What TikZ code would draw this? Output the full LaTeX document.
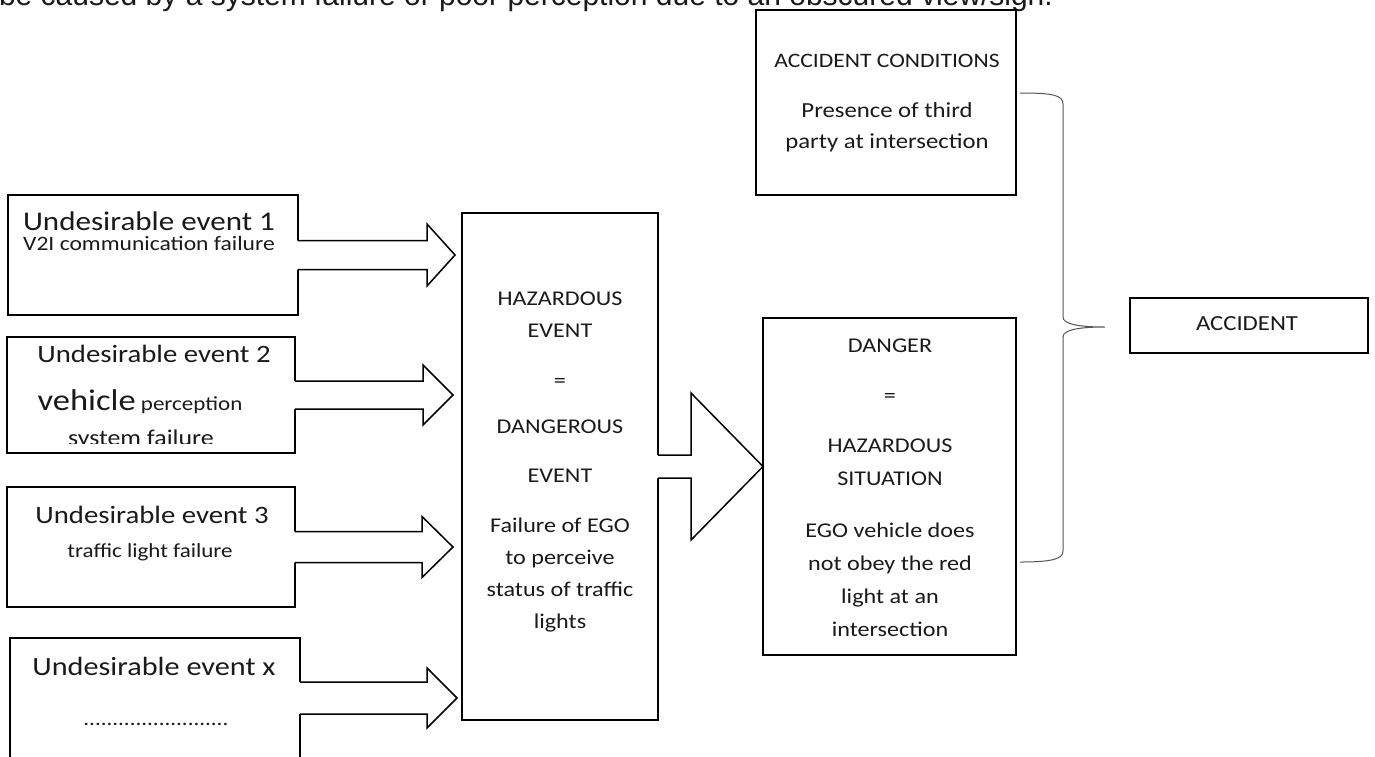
\documentclass[tikz,border=0pt]{standalone}
\usepackage{fontspec}
\setmainfont{Carlito}[FakeStretch=1.15]
\newfontfamily\notefont{Liberation Sans}
\usetikzlibrary{calc}
\definecolor{ink}{HTML}{1A1A1A}
\definecolor{bracegray}{HTML}{555555}
\newcommand{\fs}[2]{\fontsize{#1pt}{#2pt}\selectfont}

% Block arrow from the east side of node #1 towards the west side of node #2.
% #3 shaft half-height, #4 head half-height, #5 head length, #6 gap before #2.
\newcommand{\blockarrow}[6]{%
  \fill[white] let \p1=(#1.east), \p2=(#2.west) in
    (\x1-2pt,\y1+#3) -- (\x2-#6-#5,\y1+#3) -- (\x2-#6-#5,\y1+#4) -- (\x2-#6,\y1)
    -- (\x2-#6-#5,\y1-#4) -- (\x2-#6-#5,\y1-#3) -- (\x1-2pt,\y1-#3) -- cycle;
  \draw[blk] let \p1=(#1.east), \p2=(#2.west) in
    (\x1,\y1+#3) -- (\x2-#6-#5,\y1+#3) -- (\x2-#6-#5,\y1+#4) -- (\x2-#6,\y1)
    -- (\x2-#6-#5,\y1-#4) -- (\x2-#6-#5,\y1-#3) -- (\x1,\y1-#3);
}

\tikzset{
  box/.style={draw=black, line width=1.5pt, fill=white, rectangle,
    inner sep=0pt, outer sep=0pt, anchor=north west},
  txt/.style={inner sep=0pt, outer sep=0pt, text=ink, anchor=base, align=center},
  blk/.style={draw=black, line width=1.5pt, line join=miter},
  bracepen/.style={draw=bracegray, line width=1pt},
}

\begin{document}
\begin{tikzpicture}[x=1pt,y=-1pt]
\clip (0,0) rectangle (1375,756);
\fill[white] (0,0) rectangle (1375,756);

% running text above the figure
\node[txt, anchor=base west, font=\notefont\fs{30}{36}] (note) at (-1,5)
  {be caused by a system failure or poor perception due to an obscured view/sign.};

% boxes
\node[box, minimum width=290pt, minimum height=120pt] (e1) at (8,195) {};
\node[box, minimum width=288pt, minimum height=116pt] (e2) at (7,337) {};
\node[box, minimum width=288pt, minimum height=120pt] (e3) at (7,487) {};
\node[box, minimum width=290pt, minimum height=120pt] (e4) at (10,638) {};
\node[box, minimum width=196pt, minimum height=507pt] (haz) at (462,213) {};
\node[box, minimum width=253pt, minimum height=337pt] (dng) at (763,318) {};
\node[box, minimum width=260pt, minimum height=185pt] (cond) at (756,10) {};
\node[box, minimum width=238pt, minimum height=55pt] (acc) at (1130,298) {};

% block arrows
\blockarrow{e1}{haz}{14.5pt}{31pt}{28pt}{7pt}
\blockarrow{e2}{haz}{14pt}{30pt}{30pt}{9pt}
\blockarrow{e3}{haz}{15.5pt}{30.5pt}{31pt}{9pt}
\blockarrow{e4}{haz}{16pt}{30pt}{30pt}{5pt}
\blockarrow{haz}{dng}{11.5pt}{73.5pt}{72pt}{0pt}

% undesirable events (a multi-line node sits on the baseline of its last line)
\node[txt, font=\fs{27}{32}] (e1t) at (149,230) {Undesirable event 1};
\node[txt, font=\fs{20.5}{25}] (e1s) at (149,250) {V2I communication failure};

\node[txt, font=\fs{25}{30}] (e2t) at (154,362) {Undesirable event 2};
\node[txt, font=\fs{20}{25}] (e2s) at (140,410) {{\fs{30}{36}vehicle} perception};
\begin{scope}
  \clip (7,337) rectangle (295,443);
  \node[txt, font=\fs{22.5}{27}] (e2u) at (141,445) {system failure};
\end{scope}

\node[txt, font=\fs{25}{30}] (e3t) at (152,523) {Undesirable event 3};
\node[txt, font=\fs{20}{25}] (e3s) at (150,557) {traffic light failure};

\node[txt, font=\fs{26.3}{31}] (e4t) at (154,675) {Undesirable event x};
\node[txt, font=\fs{20}{25}] (e4s) at (156,725) {.........................};

% hazardous event
\node[txt, font=\fs{21}{32}] (hazt) at (560,628)
  {HAZARDOUS\\ EVENT\\[18pt] =\\[14pt] DANGEROUS\\[17pt] EVENT\\[18pt]
   Failure of EGO\\ to perceive\\ status of traffic\\ lights};

% danger
\node[txt, font=\fs{21}{33}] (dngt) at (890,636)
  {DANGER\\[17pt] =\\[17pt] HAZARDOUS\\ SITUATION\\[19pt]
   EGO vehicle does\\ not obey the red\\ light at an\\ intersection};

% accident conditions
\node[txt, font=\fs{20.5}{25}] (condt) at (887,67) {ACCIDENT CONDITIONS};
\node[txt, font=\fs{21.5}{31}] (conds) at (887,148) {Presence of third\\ party at intersection};

% accident
\node[txt, font=\fs{21.5}{26}] (acct) at (1247,330) {ACCIDENT};

% brace joining the conditions and the danger towards the accident
\coordinate (bTop) at (1020,93);
\coordinate (bTip) at (1105,327);
\coordinate (bBot) at (1020,562);
\draw[bracepen] (bTop) .. controls (1052,93) and (1063,95) .. (1063,104)
  -- (1063,317) .. controls (1063,324) and (1078,327) .. (bTip)
  .. controls (1078,327) and (1063,330) .. (1063,337)
  -- (1063,551) .. controls (1063,559) and (1052,562) .. (bBot);
\end{tikzpicture}
\end{document}
